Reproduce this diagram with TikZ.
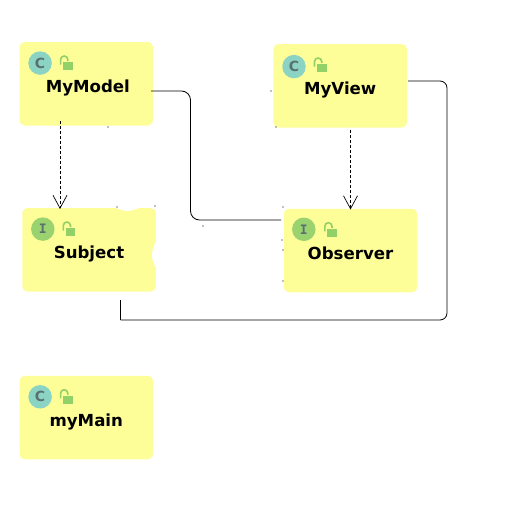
\documentclass[tikz,border=0pt]{standalone}
\usepackage{fontspec}
\setsansfont{DejaVu Sans}
\setmonofont{DejaVu Sans Mono}
\usetikzlibrary{arrows.meta,calc}
\definecolor{boxcol}{RGB}{254,254,152}
\definecolor{clscol}{RGB}{139,212,196}
\definecolor{ifccol}{RGB}{155,210,112}
\definecolor{lockcol}{RGB}{146,208,104}
\definecolor{lettercol}{RGB}{88,112,112}
% open lock beside the round icon, measured from the north west corner of a box
\newcommand{\lockicon}[1]{%
  \fill[lockcol] ($(#1.north west)+(44,20.5)$) rectangle ($(#1.north west)+(53.5,28.5)$);
  \draw[lockcol,line width=1.6pt] ($(#1.north west)+(41.5,23)$) -- ++(0,-5)
    arc[start angle=180,end angle=360,radius=3.6] -- ++(0,1.5);
}
\begin{document}
\begin{tikzpicture}[
  x=1pt, y=-1pt,
  >={Straight Barb[length=13pt,width=14pt,line width=0.7pt]},
  line width=0.9pt,
  cls/.style={fill=boxcol,rounded corners=5pt,minimum width=133.5pt,minimum height=83.5pt,
    inner sep=0pt,font=\sffamily\bfseries\fontsize{16.6}{18}\selectfont,
    text height=17pt,text depth=0pt},
  cicon/.style={circle,fill=clscol,minimum size=23.5pt,inner sep=0pt,text=lettercol,
    font=\sffamily\bfseries\fontsize{14}{14}\selectfont},
  iicon/.style={cicon,fill=ifccol,font=\ttfamily\bfseries\fontsize{13}{14}\selectfont},
  link/.style={line width=0.8pt},
  dep/.style={->,densely dashed,line width=0.8pt},
]
\useasboundingbox (0,0) rectangle (521,521);
% --- the boxes ---
\node[cls] (mymodel)  at (86.3,83.8)   {\hspace{3pt}MyModel};
\node[cls] (myview)   at (340.2,85.8)  {MyView};
\node[cls] (subject)  at (89,249.8)    {Subject};
\node[cls] (observer) at (350.5,250.5) {Observer};
\node[cls] (mymain)   at (86.3,417.5)  {myMain};
% bites out of the Subject box
\fill[white] (127.5,190) circle (21);
\fill[white] (175,255) circle (23);
% --- round icons and locks ---
\node[cicon] (cmodel) at ($(mymodel.north west)+(21,21.5)$)  {C};
\node[cicon] (cview)  at ($(myview.north west)+(21,23)$)     {C};
\node[cicon] (cmain)  at ($(mymain.north west)+(21,21.5)$)   {C};
\node[iicon] (isubj)  at ($(subject.north west)+(21,21.5)$)  {I};
\node[iicon] (iobs)   at ($(observer.north west)+(20.5,21)$) {I};
\lockicon{mymodel}
\lockicon{myview}
\lockicon{mymain}
\lockicon{subject}
\lockicon{observer}
% --- free ends of the connectors ---
\coordinate (modelout) at (151,91);
\coordinate (modeldep) at (60,121);
\coordinate (viewout)  at (408,81);
\coordinate (viewdep)  at (350.5,130);
\coordinate (subjout)  at (120.5,300);
\coordinate (subjdown) at (120.5,320);
\coordinate (obsin)    at (281,220);
\coordinate (subjdep)  at (60,209);
\coordinate (obsdep)   at (350.5,209.5);
% --- connectors ---
\draw[dep] (modeldep) -- (subjdep);
\draw[dep] (viewdep) -- (obsdep);
\draw[link,rounded corners=9pt] (modelout) -| (190.5,155) |- (obsin);
\draw[link] (subjout) -- (subjdown);
\draw[link,rounded corners=7pt] (subjdown) -- (447,320) |- (viewout);
% small grey marks round the boxes
\foreach \px/\py in {108/127,271/91,276/127,117/207,155/206,283/207,282/240,283/250,283/281,203/226}
  \fill[gray] (\px,\py) circle (0.9);
\end{tikzpicture}
\end{document}
